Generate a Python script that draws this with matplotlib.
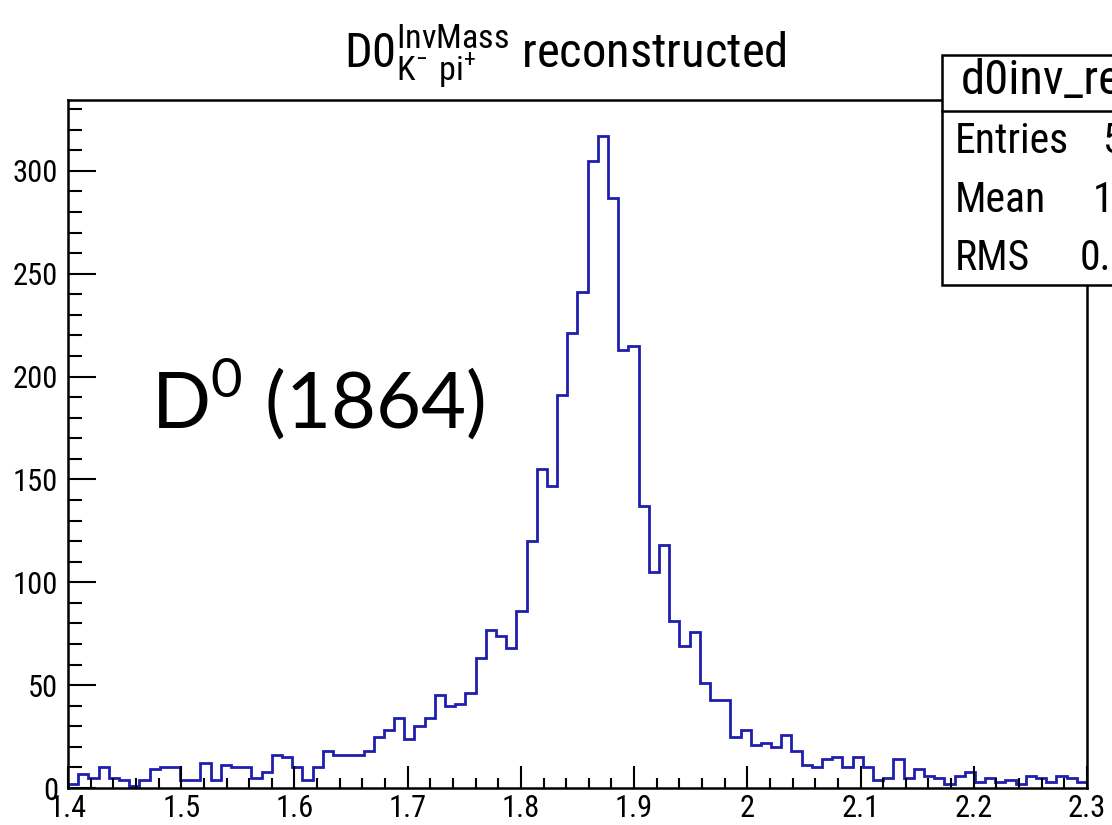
import os
import numpy as np
import matplotlib.pyplot as plt
import matplotlib.font_manager as fm
from matplotlib.patches import Rectangle
from matplotlib.lines import Line2D

# bin contents (100 bins, 1.4 - 2.3)
x_min, x_max = 1.4, 2.3
counts = [2, 7, 5, 10, 5, 4, 1, 4, 9, 10,
          10, 4, 4, 12, 4, 11, 10, 10, 5, 8,
          16, 15, 10, 4, 10, 18, 16, 16, 16, 18,
          25, 28, 34, 24, 30, 34, 45, 40, 41, 46,
          63, 77, 74, 68, 86, 120, 155, 147, 191, 221,
          241, 305, 317, 287, 213, 215, 137, 105, 118, 81,
          69, 76, 51, 43, 43, 25, 28, 21, 22, 20,
          26, 18, 11, 10, 14, 15, 10, 15, 10, 4,
          5, 14, 5, 9, 6, 5, 2, 6, 8, 3,
          5, 3, 4, 2, 6, 5, 3, 6, 5, 3]
x_ticks = [1.4, 1.5, 1.6, 1.7, 1.8, 1.9, 2.0, 2.1, 2.2, 2.3]
x_tick_labels = ["1.4", "1.5", "1.6", "1.7", "1.8", "1.9", "2", "2.1", "2.2", "2.3"]
y_ticks = [0, 50, 100, 150, 200, 250, 300]
stat_names = ["Entries", "Mean", "RMS"]
stat_values = ["5", "1", "0."]
hist_name = "d0inv_reco"


def narrow_font():
    # look for a condensed sans (the screenshot is squeezed sideways)
    prefs = ['liberationsansnarrow-regular', 'robotocondensed-regular',
             'notosans-condensed.', 'notosans-condensedregular', 'dejavusanscondensed.',
             'opensans-condensed', 'opensanscondensed']
    found = {}
    for f in fm.fontManager.ttflist:
        base = os.path.basename(f.fname).lower()
        for i, p in enumerate(prefs):
            if base.startswith(p) and f.style == 'normal':
                found.setdefault(i, f.fname)
    if found:
        return fm.FontProperties(fname=found[min(found)])
    return fm.FontProperties(family='Liberation Sans')


def fp(size):
    p = base_fp.copy()
    p.set_size(size)
    return p


base_fp = narrow_font()

W, H = 1112, 825
fig = plt.figure(figsize=(W / 100, H / 100), dpi=100)
ax = fig.add_axes([68 / W, 1 - 788 / H, (1087 - 68) / W, (788 - 100) / H])

edges = np.linspace(x_min, x_max, len(counts) + 1)
ax.stairs(counts, edges, color='#1f1fae', linewidth=2.0)

ax.set_xlim(x_min, x_max)
ax.set_ylim(0, max(counts) * 1.055)
ax.set_xticks(x_ticks)
ax.set_xticklabels(x_tick_labels)
ax.set_xticks(np.arange(x_min, x_max + 1e-9, 0.02), minor=True)
ax.set_yticks(y_ticks)
ax.set_yticks(np.arange(0, 331, 10), minor=True)

ax.tick_params(axis='x', which='major', direction='in', length=16, width=1.5, pad=4, top=False)
ax.tick_params(axis='x', which='minor', direction='in', length=7.5, width=1.5, top=False)
ax.tick_params(axis='y', which='major', direction='in', length=20, width=1.5, pad=7, right=False)
ax.tick_params(axis='y', which='minor', direction='in', length=10, width=1.5, right=False)
for lab in ax.get_xticklabels() + ax.get_yticklabels():
    lab.set_fontproperties(fp(22))
for s in ax.spines.values():
    s.set_linewidth(1.8)

# title
fig.text(565 / W, 1 - 67 / H,
         r"D0$_{\mathregular{K^{-}\ pi^{+}}}^{\mathregular{InvMass}}$ reconstructed",
         ha='center', va='baseline', fontproperties=fp(35))

# big annotation
fig.text(151 / W, 1 - 428 / H, r"D$^{\mathregular{0}}$ (1864)",
         ha='left', va='baseline', fontsize=56, family=['Lato', 'DejaVu Sans'])

# stats box (runs off the right edge)
fig.patches.append(Rectangle((942 / W, 1 - 285 / H), 400 / W, (285 - 55) / H,
                             transform=fig.transFigure, facecolor='white',
                             edgecolor='black', linewidth=1.8, zorder=5))
fig.lines.append(Line2D([942 / W, 1.2], [1 - 111 / H, 1 - 111 / H],
                        transform=fig.transFigure, color='black', linewidth=1.8, zorder=6))
fig.text(961 / W, 1 - 94 / H, hist_name, ha='left', va='baseline', fontproperties=fp(35), zorder=7)
for i, (name, val) in enumerate(zip(stat_names, stat_values)):
    yb = 1 - (153 + i * 58.5) / H
    fig.text(955 / W, yb, name, ha='left', va='baseline', fontproperties=fp(30), zorder=7)
    fig.text([1102, 1093, 1080][i] / W, yb, val, ha='left', va='baseline',
             fontproperties=fp(30), zorder=7)

fig.savefig("out.png", dpi=100)
